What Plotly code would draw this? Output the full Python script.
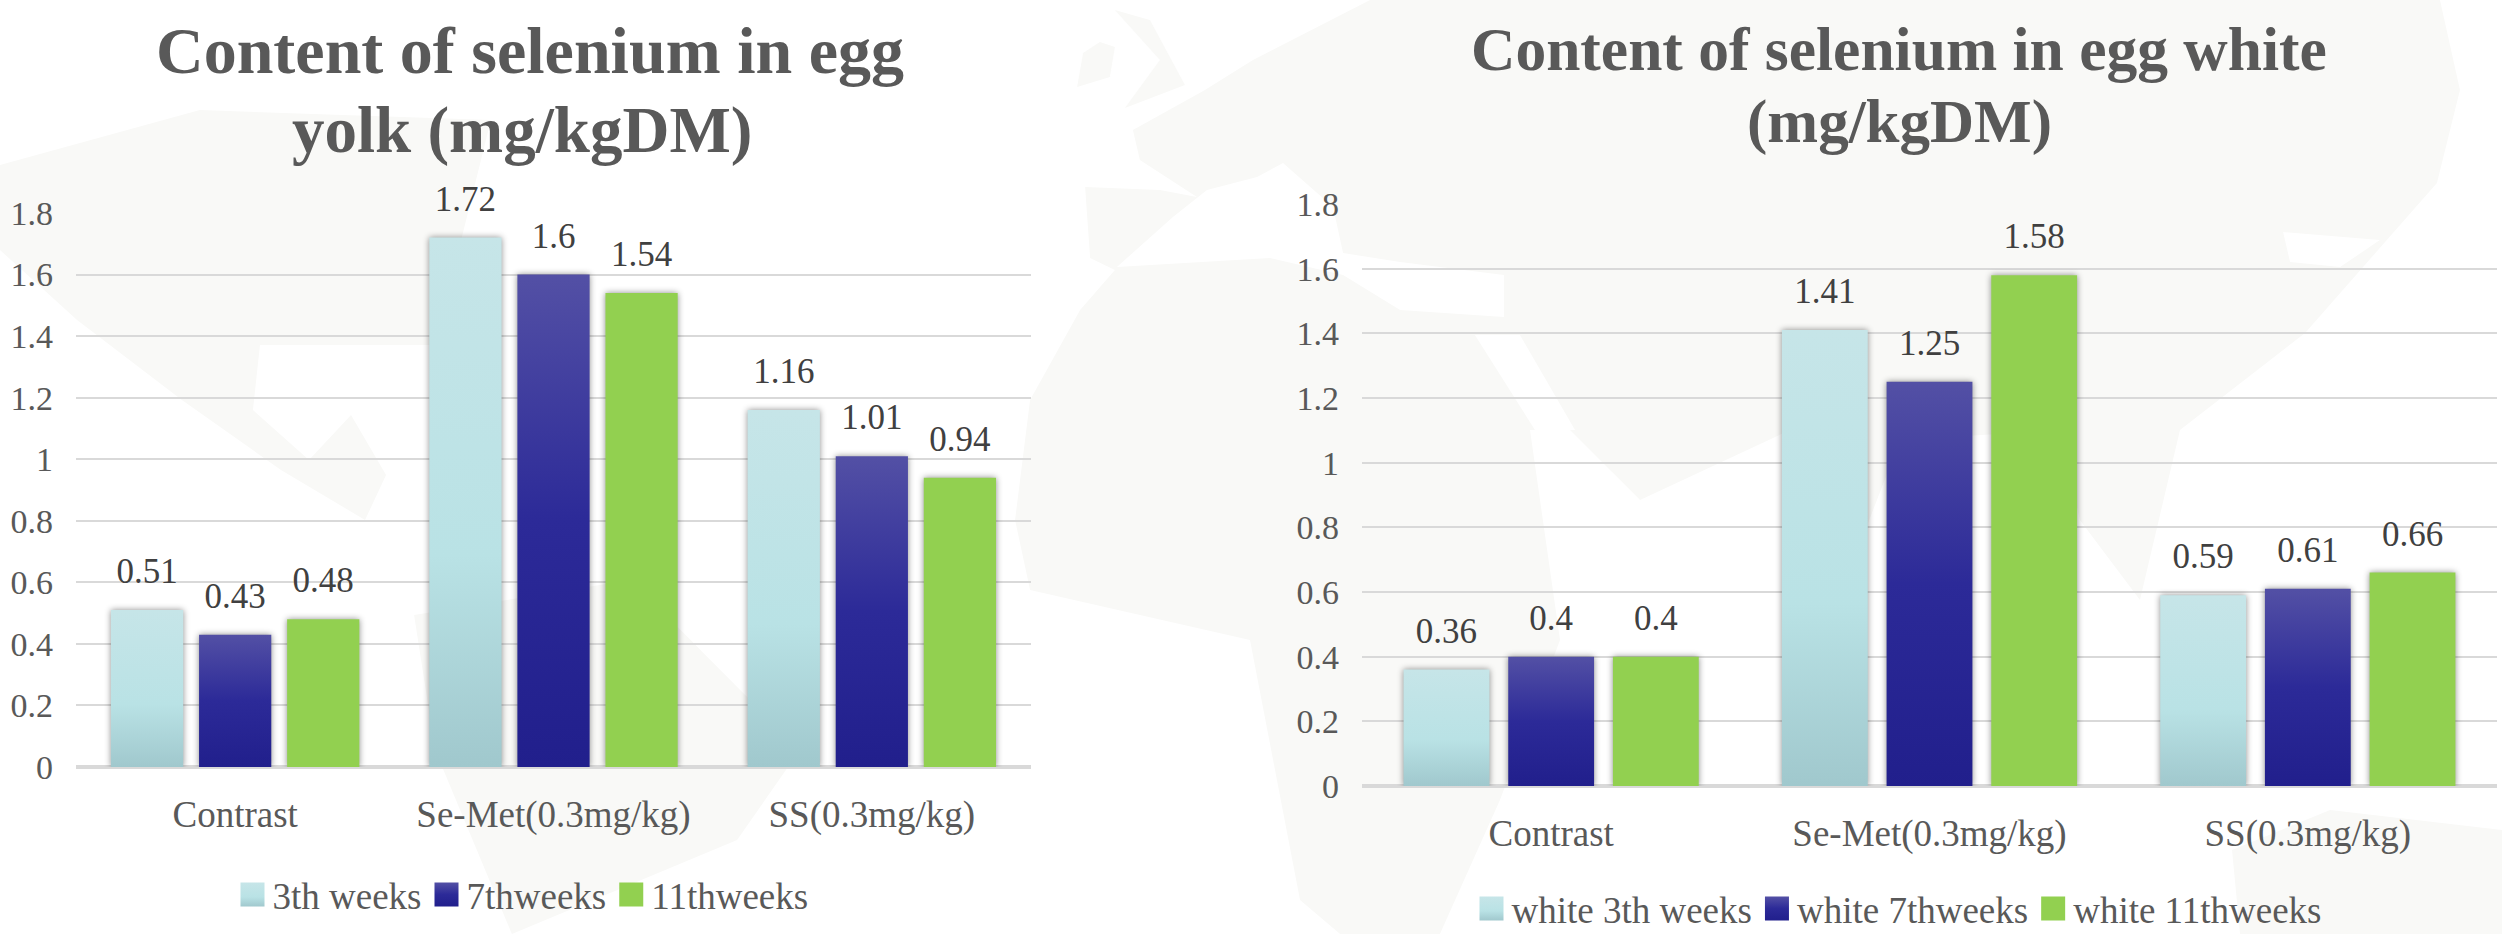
import plotly.graph_objects as go

W, H = 2502, 934

categories = ["Contrast", "Se-Met(0.3mg/kg)", "SS(0.3mg/kg)"]

yolk_3th = [0.51, 1.72, 1.16]
yolk_7th = [0.43, 1.6, 1.01]
yolk_11th = [0.48, 1.54, 0.94]

white_3th = [0.36, 1.41, 0.59]
white_7th = [0.4, 1.25, 0.61]
white_11th = [0.4, 1.58, 0.66]

yolk_names = ["3th weeks", "7thweeks", "11thweeks"]
white_names = ["white 3th weeks", "white 7thweeks", "white 11thweeks"]

yolk_title = ["Content of selenium in egg", "yolk (mg/kgDM)"]
white_title = ["Content of selenium in egg white", "(mg/kgDM)"]

FONT = "Liberation Serif"
GREY = "#595959"
LAND = "#f9f9f7"
SEA = "#ffffff"
colors = ["#bde3e6", "#2c2a98", "#92d050"]


def fx(px):
    return px / W


def fy(py):
    return 1 - py / H


def patch(points, color=LAND):
    # faint world map behind the charts, given in page pixels
    d = "M" + "L".join(f"{fx(x):.4f},{fy(y):.4f}" for x, y in points) + "Z"
    return dict(type="path", xref="paper", yref="paper", path=d, layer="below",
                fillcolor=color, line=dict(width=0))


fig = go.Figure()

for vals, name, col in zip([yolk_3th, yolk_7th, yolk_11th], yolk_names, colors):
    fig.add_trace(go.Bar(x=categories, y=vals, name=name, marker=dict(color=col, line=dict(width=0)),
                         text=[str(v) for v in vals], textposition="outside", cliponaxis=False,
                         textfont=dict(family=FONT, size=35, color="#404040"),
                         xaxis="x", yaxis="y", legend="legend"))

for vals, name, col in zip([white_3th, white_7th, white_11th], white_names, colors):
    fig.add_trace(go.Bar(x=categories, y=vals, name=name, marker=dict(color=col, line=dict(width=0)),
                         text=[str(v) for v in vals], textposition="outside", cliponaxis=False,
                         textfont=dict(family=FONT, size=35, color="#404040"),
                         xaxis="x2", yaxis="y2", legend="legend2"))

axis_x = dict(showgrid=False, showline=False, ticks="", ticklabelstandoff=22,
              tickfont=dict(family=FONT, size=37, color=GREY))
axis_y = dict(range=[0, 1.8], dtick=0.2, gridcolor="#d9d9d9", gridwidth=2, zeroline=True,
              zerolinecolor="#d9d9d9", zerolinewidth=4, showline=False, ticks="",
              ticklabelstandoff=22, tickfont=dict(family=FONT, size=34, color=GREY))

titles = []
for line, x, y, size in [(yolk_title[0], 530, 51, 66), (yolk_title[1], 522, 130, 65),
                         (white_title[0], 1899, 49, 61.5), (white_title[1], 1899, 122, 61)]:
    titles.append(dict(text=f"<b>{line}</b>", x=fx(x), y=fy(y), xref="paper", yref="paper",
                       xanchor="center", yanchor="middle", showarrow=False,
                       font=dict(family=FONT, size=size, color=GREY)))

map_shapes = [
    # north and south america
    patch([(0, 165), (200, 110), (491, 120), (435, 345), (260, 345), (253, 410), (309, 460), (351, 415),
           (386, 475), (365, 520), (281, 470), (182, 400), (77, 320), (0, 250)]),
    patch([(414, 615), (631, 580), (800, 750), (737, 840), (512, 934), (435, 750)]),
    # europe, asia and africa
    patch([(1133, 130), (1205, 90), (1253, 60), (1370, 0), (2440, 0), (2460, 90), (2437, 183), (2305, 333),
           (2180, 430), (2140, 600), (2080, 520), (2060, 430), (1900, 440), (1850, 570), (1790, 430), (1640, 500),
           (1570, 430), (1530, 430), (1560, 640), (1500, 800), (1440, 934), (1340, 934), (1300, 900), (1250, 640),
           (1030, 590), (1015, 520), (1030, 400), (1080, 310), (1115, 270), (1090, 258), (1085, 187), (1160, 190),
           (1197, 197), (1140, 160)]),
    patch([(1077, 87), (1083, 53), (1100, 42), (1115, 47), (1110, 77)]),
    patch([(1115, 10), (1150, 20), (1185, 85), (1125, 108), (1160, 60)]),
    # australia
    patch([(2232, 850), (2330, 810), (2502, 830), (2502, 934), (2240, 934)]),
    # mediterranean, black sea and red sea
    patch([(1117, 267), (1173, 217), (1207, 190), (1257, 177), (1283, 163), (1333, 207), (1343, 253), (1400, 262),
           (1504, 275), (1504, 317), (1400, 310), (1343, 275), (1270, 258)], SEA),
    patch([(1475, 335), (1520, 335), (1575, 430), (1535, 430)], SEA),
    patch([(2283, 232), (2380, 240), (2340, 267), (2290, 262)], SEA),
]

fig.update_layout(
    width=W, height=H, margin=dict(l=0, r=0, t=0, b=0, autoexpand=False), autosize=False,
    paper_bgcolor="#ffffff", plot_bgcolor="rgba(0,0,0,0)", barmode="group",
    bargap=0.17, bargroupgap=0.18,
    xaxis=dict(domain=[fx(76), fx(1031)], anchor="y", **axis_x),
    yaxis=dict(domain=[fy(767), fy(213)], anchor="x", **axis_y),
    xaxis2=dict(domain=[fx(1362), fx(2497)], anchor="y2", **axis_x),
    yaxis2=dict(domain=[fy(786), fy(204)], anchor="x2", **axis_y),
    legend=dict(orientation="h", x=fx(523), y=fy(895), xanchor="center", yanchor="middle",
                font=dict(family=FONT, size=37, color=GREY), bgcolor="rgba(0,0,0,0)"),
    legend2=dict(orientation="h", x=fx(1899), y=fy(909), xanchor="center", yanchor="middle",
                 font=dict(family=FONT, size=37, color=GREY), bgcolor="rgba(0,0,0,0)"),
    annotations=titles,
    shapes=map_shapes,
)

# Plotly bars have no gradient fill or shadow, so these go on the drawn SVG afterwards
post = """
document.body.style.margin = '0';
var gd = document.getElementById('{plot_id}');
var svg = gd.querySelector('svg.main-svg');
var NS = 'http://www.w3.org/2000/svg';
var defs = svg.querySelector('defs');
var grads = [
  [[0, '#c6e5e8'], [0.6, '#b9e2e5'], [1, '#a0c8cd']],
  [[0, '#5350a5'], [0.5, '#2c2a98'], [1, '#211f8c']],
  [[0, '#92d050'], [1, '#92d050']]
];
grads.forEach(function (stops, i) {
  var g = document.createElementNS(NS, 'linearGradient');
  g.setAttribute('id', 'bargrad' + i);
  g.setAttribute('x1', '0'); g.setAttribute('y1', '0');
  g.setAttribute('x2', '0'); g.setAttribute('y2', '1');
  stops.forEach(function (s) {
    var st = document.createElementNS(NS, 'stop');
    st.setAttribute('offset', s[0]);
    st.setAttribute('stop-color', s[1]);
    g.appendChild(st);
  });
  defs.appendChild(g);
});
gd.querySelectorAll('.barlayer .trace.bars').forEach(function (tr, i) {
  tr.querySelectorAll('.point path').forEach(function (p) {
    p.style.fill = 'url(#bargrad' + (i % 3) + ')';
    p.style.filter = 'drop-shadow(0 0 3px rgba(0,0,0,0.45))';
  });
  tr.querySelectorAll('text.bartext').forEach(function (t) {
    var old = t.getAttribute('transform') || '';
    t.setAttribute('transform', 'translate(0,-16) ' + old);
  });
});
gd.querySelectorAll('.legendpoints path').forEach(function (p, i) {
  p.style.fill = 'url(#bargrad' + (i % 3) + ')';
  var old = p.getAttribute('transform') || '';
  p.setAttribute('transform', old + ' scale(2)');
});
"""

fig.write_html("out.html", post_script=post, config=dict(displayModeBar=False))
